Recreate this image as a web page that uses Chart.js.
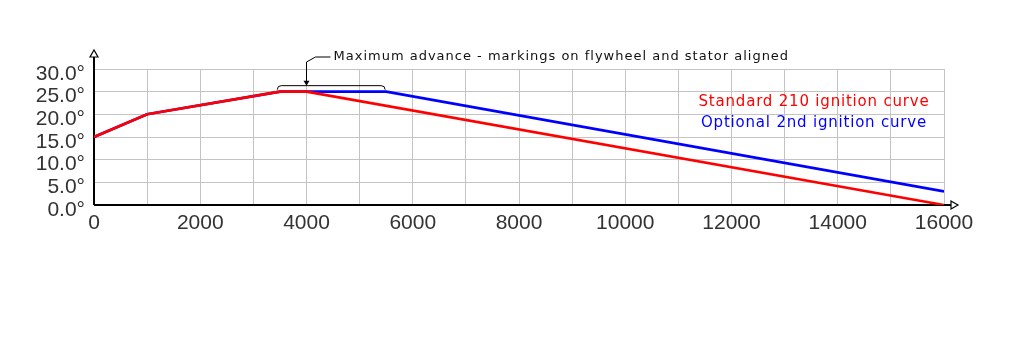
<!DOCTYPE html>
<html>
<head>
    <title>Ignition curves</title>
    <script src="https://cdn.jsdelivr.net/npm/chart.js"></script>
    <style>
        body { margin: 0; background: #fff; }
        #wrap { width: 1028px; height: 340px; }
    </style>
</head>
<body>
    <div id="wrap"><canvas id="curveChart"></canvas></div>

    <script>
        // rpm / degrees
        const stdRpm = [0, 1000, 3500, 4000, 16000];
        const stdAdvance = [15, 20, 25, 25, 0];
        const optRpm = [0, 1000, 3500, 5500, 16000];
        const optAdvance = [15, 20, 25, 25, 3];

        const stdLabel = 'Standard 210 ignition curve';
        const optLabel = 'Optional 2nd ignition curve';
        const noteText = 'Maximum advance - markings on flywheel and stator aligned';
        const notePoint = 4000;
        const bracketFrom = 3450;
        const bracketTo = 5480;

        const toPoints = (xs, ys) => xs.map((x, i) => ({ x: x, y: ys[i] }));

        // axes with arrow heads, bracket + note, coloured legend text
        const decor = {
            id: 'decor',
            beforeDatasetsDraw(chart) {
                const ctx = chart.ctx, a = chart.chartArea;
                ctx.save();
                ctx.strokeStyle = '#000';
                ctx.fillStyle = '#fff';
                ctx.lineWidth = 2;
                ctx.beginPath();
                ctx.moveTo(a.left, a.bottom);
                ctx.lineTo(a.left, a.top - 13);
                ctx.moveTo(a.left, a.bottom);
                ctx.lineTo(a.right + 11, a.bottom);
                ctx.stroke();
                ctx.lineWidth = 1.2;
                // y arrow
                ctx.beginPath();
                ctx.moveTo(a.left, a.top - 19);
                ctx.lineTo(a.left - 4, a.top - 12);
                ctx.lineTo(a.left + 4, a.top - 12);
                ctx.closePath();
                ctx.fill(); ctx.stroke();
                // x arrow
                ctx.beginPath();
                ctx.moveTo(a.right + 14, a.bottom);
                ctx.lineTo(a.right + 7, a.bottom - 4);
                ctx.lineTo(a.right + 7, a.bottom + 4);
                ctx.closePath();
                ctx.fill(); ctx.stroke();
                ctx.restore();
            },
            afterDatasetsDraw(chart) {
                const ctx = chart.ctx, a = chart.chartArea;
                const xs = chart.scales.x, ys = chart.scales.y;
                const px = xs.getPixelForValue(notePoint);
                const b1 = xs.getPixelForValue(bracketFrom);
                const b2 = xs.getPixelForValue(bracketTo);
                const by = ys.getPixelForValue(25) - 5;
                ctx.save();
                ctx.strokeStyle = '#000';
                ctx.lineWidth = 1;
                ctx.beginPath();
                ctx.moveTo(b1, by + 3);
                ctx.quadraticCurveTo(b1, by - 1, b1 + 4, by - 1);
                ctx.lineTo(b2 - 4, by - 1);
                ctx.quadraticCurveTo(b2, by - 1, b2, by + 3);
                ctx.stroke();
                ctx.beginPath();
                ctx.moveTo(px, by - 2);
                ctx.lineTo(px, a.top - 7);
                ctx.lineTo(px + 9, a.top - 12);
                ctx.lineTo(px + 24, a.top - 12);
                ctx.stroke();
                ctx.beginPath();
                ctx.moveTo(px, by - 1);
                ctx.lineTo(px - 3, by - 6);
                ctx.lineTo(px + 3, by - 6);
                ctx.closePath();
                ctx.fillStyle = '#000';
                ctx.fill();

                ctx.font = '13px "DejaVu Sans"';
                ctx.letterSpacing = '1px';
                ctx.textBaseline = 'middle';
                ctx.textAlign = 'left';
                ctx.fillStyle = '#111';
                ctx.fillText(noteText, px + 27, a.top - 12);

                ctx.font = '15px "DejaVu Sans"';
                ctx.letterSpacing = '0.8px';
                ctx.textAlign = 'center';
                ctx.fillStyle = 'rgb(255,0,0)';
                ctx.fillText(stdLabel, 814, 102);
                ctx.fillStyle = 'rgb(0,0,255)';
                ctx.fillText(optLabel, 814, 123);
                ctx.restore();
            }
        };

        const ctx = document.getElementById('curveChart').getContext('2d');
        new Chart(ctx, {
            type: 'line',
            data: {
                datasets: [
                    {
                        label: stdLabel,
                        data: toPoints(stdRpm, stdAdvance),
                        borderColor: 'rgb(255,0,0)',
                        borderWidth: 2.6,
                        pointRadius: 0,
                        fill: false,
                        tension: 0
                    },
                    {
                        label: optLabel,
                        data: toPoints(optRpm, optAdvance),
                        borderColor: 'rgb(0,0,255)',
                        borderWidth: 2.6,
                        pointRadius: 0,
                        fill: false,
                        tension: 0
                    }
                ]
            },
            options: {
                responsive: true,
                maintainAspectRatio: false,
                animation: false,
                layout: { padding: { left: 0, top: 69, right: 84, bottom: 105 } },
                plugins: {
                    legend: { display: false },
                    tooltip: { enabled: false }
                },
                scales: {
                    x: {
                        type: 'linear',
                        min: 0,
                        max: 16000,
                        afterFit: s => { s.height = 30; },
                        border: { display: false },
                        grid: { color: '#c4c4c4', lineWidth: 1, drawTicks: false },
                        ticks: {
                            stepSize: 1000,
                            autoSkip: false,
                            maxRotation: 0,
                            padding: 6,
                            color: '#333',
                            font: { family: '"Liberation Sans", Arial', size: 21 },
                            callback: v => (v % 2000 === 0 ? String(v) : '')
                        }
                    },
                    y: {
                        min: 0,
                        max: 30,
                        afterFit: s => { s.width = 94; },
                        border: { display: false },
                        grid: { color: '#c4c4c4', lineWidth: 1, drawTicks: false },
                        ticks: {
                            stepSize: 5,
                            autoSkip: false,
                            padding: 9,
                            labelOffset: 5,
                            color: '#333',
                            font: { family: '"Liberation Sans", Arial', size: 21 },
                            callback: v => v.toFixed(1) + '°'
                        }
                    }
                }
            },
            plugins: [decor]
        });
    </script>
</body>
</html>
